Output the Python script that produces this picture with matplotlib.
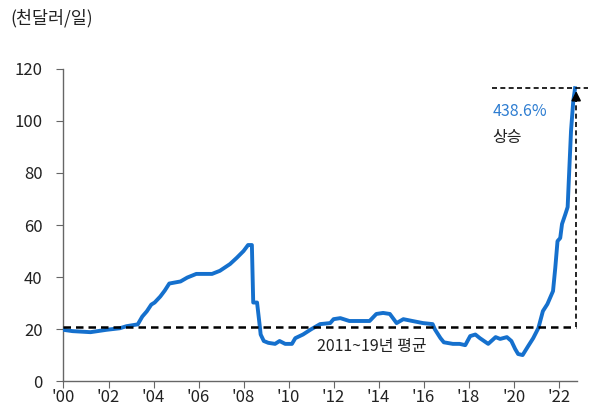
import numpy as np
import matplotlib
matplotlib.use('Agg')
import matplotlib.pyplot as plt

plt.rcParams['font.family'] = ['Noto Sans CJK KR', 'DejaVu Sans']

# 연도(소수) / 일일 수익 (천달러)
years = [2000.0, 2000.4, 2001.2, 2001.9, 2002.5, 2002.8, 2003.3, 2003.5, 2003.7, 2003.9,
         2004.05, 2004.3, 2004.5, 2004.7, 2005.2, 2005.5, 2005.9, 2006.6, 2006.95, 2007.4,
         2007.7, 2008.0, 2008.2, 2008.37, 2008.43, 2008.6, 2008.73, 2008.76, 2008.9, 2009.1,
         2009.4, 2009.6, 2009.85, 2010.15, 2010.3, 2010.64, 2011.0, 2011.4, 2011.85, 2012.0,
         2012.3, 2012.7, 2013.6, 2013.9, 2014.2, 2014.5, 2014.8, 2015.1, 2015.5, 2015.97,
         2016.4, 2016.5, 2016.75, 2016.9, 2017.3, 2017.6, 2017.85, 2018.07, 2018.3, 2018.5,
         2018.87, 2019.2, 2019.4, 2019.7, 2019.9, 2020.07, 2020.2, 2020.4, 2020.65, 2020.87,
         2021.1, 2021.3, 2021.5, 2021.75, 2021.85, 2021.95, 2022.07, 2022.15, 2022.3, 2022.4,
         2022.45, 2022.55, 2022.65, 2022.73]
values = [19.7, 19.2, 18.8, 19.7, 20.3, 21.1, 21.8, 24.8, 26.8, 29.4,
          30.2, 32.5, 34.8, 37.5, 38.3, 39.8, 41.2, 41.2, 42.4, 45.0,
          47.4, 50.0, 52.3, 52.3, 30.2, 30.2, 20.4, 17.9, 15.4, 14.7,
          14.3, 15.4, 14.3, 14.3, 16.5, 17.9, 19.9, 21.9, 22.3, 23.8,
          24.2, 23.1, 23.1, 25.8, 26.2, 25.8, 22.3, 23.8, 23.1, 22.3,
          21.9, 19.9, 16.5, 14.9, 14.3, 14.3, 13.8, 17.3, 17.9, 16.5,
          14.3, 16.9, 16.2, 16.9, 15.4, 12.3, 10.4, 10.0, 13.5, 16.5,
          20.4, 26.9, 29.6, 34.6, 43.5, 53.8, 55.0, 60.4, 64.2, 66.9,
          76.9, 96.2, 107.7, 112.6]

avg_2011_19 = 20.9
rise_pct = 438.6
peak = avg_2011_19 * (1 + rise_pct / 100)

xtick_years = list(range(2000, 2023, 2))
xtick_labels = ["'%02d" % (y % 100) for y in xtick_years]

fig = plt.figure(figsize=(5.89, 4.08), dpi=100)
ax = fig.add_axes([0.1078, 0.066, 0.872, 0.765])

ax.plot(years, values, color='#1570CD', lw=2.8, solid_joinstyle='round', zorder=3)

x_end = 2022.78
ax.plot([2000, x_end], [avg_2011_19, avg_2011_19], ls=(0, (3, 2)), color='black', lw=1.8, zorder=4)
ax.plot([2019.05, 2023.3], [peak, peak], ls=(0, (3, 2)), color='black', lw=1.2, clip_on=False, zorder=4)
ax.plot([x_end, x_end], [avg_2011_19, peak - 3], ls=(0, (3, 2)), color='black', lw=1.2, zorder=4)
ax.annotate('', xy=(x_end, peak), xytext=(x_end, peak - 6),
            arrowprops=dict(arrowstyle='-|>', color='black', lw=1.2, mutation_scale=14), zorder=5)

ax.text(2019.05, 103.5, '%.1f%%' % rise_pct, color='#2E7DD1', fontsize=11.5, ha='left', va='center')
ax.text(2019.05, 93.5, '상승', color='#222222', fontsize=11.5, ha='left', va='center')
ax.text(2013.7, 13.4, '2011~19년 평균', color='#222222', fontsize=11.5, ha='center', va='center')

ax.set_xlim(2000, 2022.82)
ax.set_ylim(0, 120)
ax.set_xticks(xtick_years)
ax.set_xticklabels(xtick_labels)
ax.set_yticks(range(0, 121, 20))

for s in ['top', 'right']:
    ax.spines[s].set_visible(False)
for s in ['left', 'bottom']:
    ax.spines[s].set_color('#666666')
    ax.spines[s].set_linewidth(1.0)
ax.tick_params(axis='both', colors='#666666', labelcolor='#222222', labelsize=12,
               length=5, direction='out')
ax.tick_params(axis='y', pad=10)
ax.tick_params(axis='x', pad=1)

fig.text(0.017, 0.955, '(천달러/일)', fontsize=12.5, color='#222222', ha='left', va='center')

fig.savefig('out.png', dpi=100)
